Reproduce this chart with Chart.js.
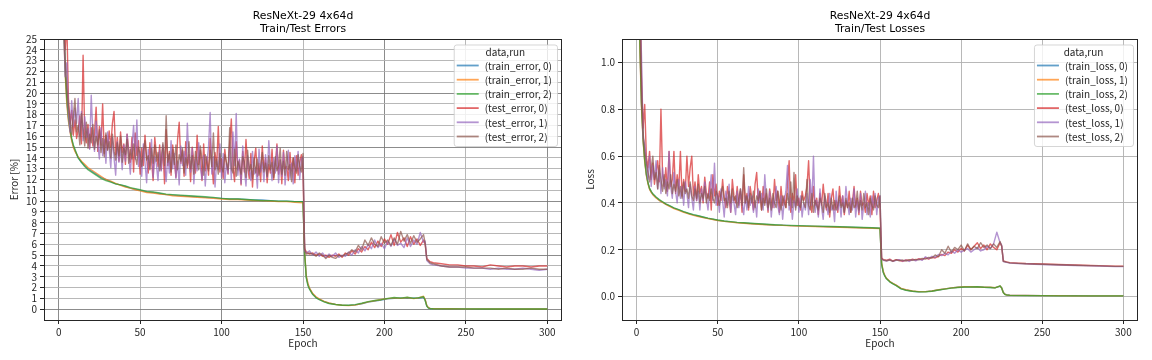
<!DOCTYPE html>
<html><head><meta charset="utf-8">
<script src="https://cdn.jsdelivr.net/npm/chart.js@4.4.1/dist/chart.umd.min.js"></script>
<style>
html,body{margin:0;padding:0;background:#fff;}
#wrap{position:relative;width:1152px;height:360px;overflow:hidden;}
.c{position:absolute;top:0;width:576px;height:360px;}
</style></head><body>
<div id="wrap">
<div class="c" style="left:0"><canvas id="c1" width="576" height="360"></canvas></div>
<div class="c" style="left:576px"><canvas id="c2" width="576" height="360"></canvas></div>
</div>
<script>
// ---------- epochs ----------
const epochsTest = [1,2,3,4,5,6,7,8,9,10,11,12,13,14,15,16,17,18,19,20,21,22,23,24,25,26,27,28,29,30,
31,32,33,34,35,36,37,38,39,40,41,42,43,44,45,46,47,48,49,50,51,52,53,54,55,56,57,58,59,60,
61,62,63,64,65,66,67,68,69,70,71,72,73,74,75,76,77,78,79,80,81,82,83,84,85,86,87,88,89,90,
91,92,93,94,95,96,97,98,99,100,101,102,103,104,105,106,107,108,109,110,111,112,113,114,115,116,117,118,119,120,
121,122,123,124,125,126,127,128,129,130,131,132,133,134,135,136,137,138,139,140,141,142,143,144,145,146,147,148,149,150,
151,152,154,156,158,160,162,164,166,168,170,172,174,176,178,180,182,184,186,188,190,192,194,196,198,200,
202,204,206,208,210,212,214,216,218,220,222,224,225,226,228,230,235,240,245,250,255,260,265,270,275,280,285,290,295,300];
const epochsTrain = [1,2,3,4,5,6,7,8,9,10,12,14,16,18,20,23,26,29,32,35,38,41,44,47,50,54,58,62,66,70,
75,80,85,90,95,100,105,110,115,120,125,130,135,140,145,150,151,152,153,154,156,158,160,
163,166,170,174,178,182,186,190,194,198,202,206,210,214,218,221,224,225,226,227,228,230,240,250,260,270,280,290,300];

// ---------- ticks ----------
const xTicks = [0,50,100,150,200,250,300];
const errTicks = [0,1,2,3,4,5,6,7,8,9,10,11,12,13,14,15,16,17,18,19,20,21,22,23,24,25];
const lossTicks = [0,0.2,0.4,0.6,0.8,1.0];

// ---------- labels ----------
const errLabels = ['(train_error, 0)','(train_error, 1)','(train_error, 2)','(test_error, 0)','(test_error, 1)','(test_error, 2)'];
const lossLabels = ['(train_loss, 0)','(train_loss, 1)','(train_loss, 2)','(test_loss, 0)','(test_loss, 1)','(test_loss, 2)'];

// ---------- train error ----------
const trainError0 = [58,36,27,22,19.3,17.6,16.5,15.7,15.1,14.7,
14.0,13.6,13.3,13.0,12.8,
12.5,12.2,12.0,11.8,11.6,11.5,11.35,11.2,11.1,11.0,
10.85,10.8,10.7,10.6,10.55,
10.5,10.45,10.4,10.35,10.3,10.25,10.2,10.2,10.15,10.1,10.1,10.05,10.0,10.0,9.95,9.95,
5.2,3.0,2.3,1.9,1.4,1.1,0.9,
0.7,0.55,0.45,0.38,0.35,0.4,0.5,0.65,0.75,0.85,0.95,1.0,1.05,1.0,1.05,1.0,1.1,
0.85,0.3,0.12,0.07,0.05,
0.04,0.03,0.03,0.02,0.02,0.02,0.02];
const trainError1 = [57,35,26.5,21.8,19.0,17.4,16.4,15.6,15.0,14.6,
14.1,13.7,13.4,13.1,12.9,
12.6,12.3,12.0,11.85,11.65,11.45,11.3,11.2,11.05,10.95,
10.8,10.75,10.65,10.6,10.5,
10.45,10.4,10.35,10.3,10.25,10.2,10.15,10.15,10.1,10.05,10.05,10.0,9.95,9.95,9.9,9.85,
5.3,3.1,2.4,1.95,1.45,1.15,0.95,
0.72,0.57,0.44,0.36,0.33,0.38,0.52,0.68,0.78,0.9,0.98,1.05,1.0,1.08,0.98,1.05,1.2,
0.9,0.35,0.14,0.08,0.05,
0.04,0.03,0.03,0.02,0.02,0.02,0.02];
const trainError2 = [59,37,27.5,22.3,19.6,17.8,16.7,15.8,15.2,14.8,
14.0,13.6,13.2,12.9,12.7,
12.4,12.1,11.9,11.75,11.6,11.5,11.4,11.25,11.15,11.05,
10.9,10.85,10.75,10.65,10.6,
10.55,10.5,10.45,10.4,10.35,10.25,10.2,10.2,10.15,10.1,10.05,10.05,10.0,10.0,9.95,9.95,
5.1,2.9,2.2,1.85,1.35,1.05,0.88,
0.68,0.53,0.43,0.37,0.36,0.42,0.55,0.7,0.8,0.88,1.0,1.08,1.02,1.1,1.0,1.07,1.15,
0.8,0.28,0.1,0.06,0.04,
0.03,0.03,0.02,0.02,0.02,0.02,0.02];

// ---------- test error ----------
const testError0 = [55,38,29,24,26.5,19.5,17.2,18.4,16.1,17.5,
15.8,16.6,17.9,15.3,23.5,16.2,15.4,17.1,14.9,16.8,
15.1,16.3,18.7,14.6,16.9,15.2,19.0,14.4,16.1,14.8,
16.5,15.0,17.2,18.3,14.3,15.9,13.7,16.4,14.5,15.3,
13.4,16.2,14.8,13.6,15.9,12.7,16.3,14.2,15.6,12.5,
14.9,13.3,16.1,14.0,12.6,15.4,13.8,11.9,15.9,14.4,
13.2,15.2,12.9,14.9,11.6,16.6,13.3,14.6,12.4,15.2,
13.8,12.2,15.7,17.3,13.5,14.7,12.3,15.5,13.1,14.3,
11.8,15.0,13.7,12.6,16.1,13.4,14.7,11.9,15.3,12.8,
14.1,12.4,15.8,13.6,11.6,14.5,13.2,16.9,12.7,13.9,
12.1,14.8,13.4,12.5,15.4,17.6,13.1,11.8,15.5,12.9,
13.8,11.5,14.6,12.7,15.7,13.2,12.1,14.4,11.3,13.7,
14.9,12.3,13.5,11.8,15.1,12.9,14.0,11.7,13.4,12.6,
14.8,12.0,13.3,15.3,12.5,13.8,11.6,14.7,13.0,13.2,
11.9,14.5,12.8,14.0,11.7,14.2,12.4,13.6,14.3,12.5,
5.6,5.3,5.1,5.2,5.0,5.1,4.9,5.0,4.8,5.0,4.9,5.1,4.8,5.2,5.0,5.4,5.1,5.6,5.3,5.8,5.5,6.2,5.7,6.3,5.8,6.5,
6.0,6.9,5.9,7.1,6.2,6.6,5.8,6.7,6.0,6.5,5.9,6.4,6.0,4.7,4.4,4.3,4.2,4.1,4.1,4.0,4.0,3.9,4.1,4.0,3.9,4.0,4.0,3.9,4.0,4.0];
const testError1 = [52,34,27,21.5,22.8,18.2,16.4,19.3,16.9,18.6,
17.2,19.5,16.0,18.3,15.6,17.8,15.9,16.7,14.8,19.8,
16.1,14.6,17.4,15.3,13.9,16.8,14.2,15.7,13.5,16.4,
14.8,13.1,15.9,14.0,12.4,15.5,13.6,14.9,12.9,15.2,
13.7,16.2,14.3,12.5,15.0,17.0,13.9,17.5,13.2,14.6,
12.3,15.3,13.6,11.7,14.8,13.0,15.7,12.2,14.1,13.4,
11.9,14.7,12.8,15.2,13.5,11.8,14.3,12.6,15.6,13.0,
14.4,12.1,13.7,11.5,15.1,13.3,14.6,12.4,17.2,13.8,
12.7,14.9,11.6,13.9,12.8,15.4,13.1,12.0,14.2,11.4,
13.6,15.0,18.2,12.5,14.1,11.3,13.7,12.9,15.3,12.2,
14.4,11.7,13.5,12.6,14.8,12.0,16.4,13.3,18.1,12.4,
13.9,11.6,15.1,12.9,11.4,14.2,13.0,11.9,14.6,12.5,
13.1,11.2,14.8,12.7,13.6,11.8,14.3,12.2,15.6,13.4,
11.9,14.0,12.6,15.1,11.7,13.8,12.3,14.5,11.5,13.2,
14.7,12.1,13.5,11.6,14.2,12.8,14.6,12.0,13.9,14.1,
5.4,5.2,5.4,5.0,5.3,4.9,5.2,4.8,5.1,4.9,5.2,4.8,5.0,4.9,5.3,5.0,5.5,5.2,5.8,5.4,6.0,5.6,6.4,5.7,6.1,5.6,
6.3,5.8,6.5,5.9,6.1,5.7,6.6,5.8,6.4,6.0,7.1,6.2,6.3,4.5,4.2,4.1,4.0,3.9,3.9,3.8,3.8,3.8,3.7,3.8,3.7,3.7,3.8,3.7,3.6,3.7];
const testError2 = [50,36,28,23,20.5,18.8,17.5,16.2,17.9,19.5,
16.4,17.0,15.2,18.1,16.7,15.1,17.3,14.9,16.2,15.4,
17.1,14.8,16.0,15.2,16.6,14.5,15.8,14.1,16.3,14.7,
15.5,14.0,16.2,14.6,13.8,15.4,14.2,16.0,13.6,14.9,
14.3,15.7,13.5,14.8,13.9,15.3,14.1,13.4,15.0,14.4,
13.2,14.7,15.6,13.8,14.2,12.9,14.9,13.5,15.2,13.7,
14.5,12.8,14.1,15.4,13.3,17.9,13.6,14.4,12.7,14.8,
13.4,15.2,12.9,14.3,13.7,14.9,12.6,14.0,13.3,15.5,
13.0,14.2,12.5,14.6,13.6,12.9,15.1,13.8,12.4,14.3,
13.5,12.8,14.7,13.2,16.3,12.9,13.9,12.5,14.4,13.1,
12.7,14.3,13.6,12.9,16.8,13.0,12.6,14.8,12.3,13.7,
13.2,12.5,14.1,13.6,12.2,14.7,12.8,13.4,12.1,14.0,
12.6,13.9,12.4,13.2,14.5,12.7,13.5,12.3,14.2,12.9,
13.6,12.2,14.1,12.8,13.3,14.9,12.5,13.7,12.4,14.6,
12.9,13.4,11.8,14.0,13.1,12.6,14.3,13.2,12.7,14.4,
5.5,5.1,5.2,5.1,4.9,5.2,5.0,4.7,5.0,4.8,4.7,5.0,4.9,5.1,5.2,5.5,5.3,5.9,5.5,6.4,5.9,6.6,6.0,5.8,6.7,6.1,
6.4,5.9,6.6,6.0,7.2,6.3,6.9,6.1,6.8,6.2,6.5,6.9,6.1,4.6,4.3,4.2,4.0,3.9,3.9,3.9,3.8,3.8,3.8,3.7,3.8,3.7,3.7,3.8,3.7,3.7];

// ---------- train loss ----------
const trainLoss0 = [1.75,1.08,0.82,0.67,0.58,0.52,0.485,0.46,0.447,0.437,
0.423,0.412,0.403,0.395,0.388,
0.378,0.37,0.362,0.355,0.349,0.344,0.339,0.334,0.33,0.326,
0.322,0.319,0.316,0.314,0.312,
0.31,0.308,0.306,0.305,0.303,0.302,0.301,0.3,0.299,0.298,0.297,0.296,0.295,0.294,0.293,0.292,
0.14,0.105,0.088,0.077,0.064,0.055,0.048,
0.034,0.028,0.023,0.02,0.021,0.024,0.028,0.033,0.037,0.04,0.041,0.041,0.041,0.04,0.039,0.038,0.044,
0.038,0.018,0.01,0.008,0.006,
0.005,0.004,0.004,0.004,0.003,0.003,0.003];
const trainLoss1 = [1.72,1.06,0.81,0.665,0.575,0.518,0.482,0.458,0.445,0.435,
0.421,0.41,0.402,0.394,0.386,
0.376,0.368,0.36,0.353,0.347,0.342,0.337,0.333,0.329,0.325,
0.321,0.318,0.315,0.313,0.311,
0.309,0.307,0.305,0.304,0.302,0.301,0.3,0.299,0.298,0.297,0.296,0.295,0.294,0.293,0.292,0.291,
0.145,0.108,0.09,0.078,0.065,0.056,0.049,
0.035,0.029,0.024,0.021,0.021,0.024,0.029,0.033,0.037,0.04,0.042,0.042,0.041,0.04,0.04,0.038,0.045,
0.037,0.017,0.01,0.007,0.006,
0.005,0.004,0.004,0.003,0.003,0.003,0.003];
const trainLoss2 = [1.78,1.1,0.83,0.675,0.585,0.525,0.488,0.462,0.449,0.439,
0.425,0.414,0.405,0.396,0.389,
0.379,0.371,0.363,0.356,0.35,0.345,0.34,0.335,0.331,0.327,
0.323,0.32,0.317,0.315,0.313,
0.311,0.309,0.307,0.305,0.304,0.303,0.302,0.301,0.3,0.299,0.298,0.297,0.296,0.295,0.294,0.292,
0.138,0.103,0.087,0.076,0.063,0.054,0.047,
0.033,0.027,0.023,0.02,0.02,0.023,0.028,0.032,0.036,0.039,0.041,0.041,0.042,0.04,0.039,0.037,0.046,
0.036,0.016,0.009,0.007,0.005,
0.004,0.004,0.003,0.003,0.003,0.003,0.003];

// ---------- test loss ----------
const testLoss0 = [2.1,1.35,0.95,0.72,0.82,0.6,0.55,0.62,0.5,0.57,
0.48,0.53,0.58,0.49,0.8,0.52,0.47,0.55,0.45,0.62,
0.47,0.5,0.62,0.44,0.52,0.46,0.62,0.43,0.5,0.45,
0.6,0.47,0.55,0.6,0.43,0.49,0.41,0.52,0.44,0.47,
0.4,0.51,0.44,0.42,0.49,0.37,0.52,0.43,0.48,0.39,
0.45,0.41,0.5,0.42,0.38,0.47,0.42,0.36,0.5,0.43,
0.4,0.47,0.39,0.45,0.36,0.52,0.4,0.44,0.37,0.47,
0.42,0.37,0.48,0.53,0.4,0.45,0.37,0.47,0.4,0.44,
0.36,0.46,0.41,0.38,0.5,0.41,0.45,0.36,0.47,0.39,
0.43,0.38,0.48,0.58,0.36,0.44,0.4,0.52,0.39,0.42,
0.37,0.45,0.41,0.43,0.47,0.58,0.4,0.36,0.47,0.39,
0.42,0.35,0.44,0.39,0.48,0.4,0.37,0.44,0.34,0.42,
0.46,0.37,0.41,0.36,0.47,0.39,0.43,0.35,0.41,0.38,
0.45,0.36,0.4,0.47,0.38,0.42,0.35,0.45,0.39,0.4,
0.36,0.44,0.39,0.43,0.35,0.45,0.38,0.41,0.44,0.38,
0.165,0.158,0.155,0.16,0.152,0.158,0.155,0.15,0.157,0.154,0.16,0.156,0.162,0.158,0.165,0.16,0.168,0.165,0.172,0.18,
0.175,0.19,0.185,0.2,0.19,0.205,0.195,0.22,0.2,0.215,0.23,0.205,0.22,0.2,0.225,0.21,0.2,0.23,0.215,0.152,
0.148,0.145,0.143,0.141,0.14,0.139,0.138,0.137,0.136,0.135,0.134,0.133,0.132,0.131,0.13,0.13];
const testLoss1 = [1.9,1.25,1.03,0.68,0.65,0.58,0.5,0.6,0.47,0.56,
0.5,0.58,0.46,0.54,0.44,0.55,0.46,0.5,0.43,0.62,
0.47,0.42,0.53,0.45,0.4,0.5,0.42,0.47,0.39,0.49,
0.44,0.38,0.48,0.42,0.37,0.47,0.41,0.45,0.37,0.46,
0.41,0.49,0.42,0.37,0.45,0.52,0.41,0.57,0.39,0.44,
0.36,0.46,0.41,0.34,0.45,0.39,0.48,0.36,0.43,0.4,
0.35,0.45,0.38,0.46,0.4,0.35,0.43,0.37,0.47,0.39,
0.43,0.36,0.41,0.34,0.46,0.4,0.44,0.37,0.52,0.41,
0.37,0.45,0.34,0.42,0.38,0.47,0.39,0.35,0.43,0.33,
0.41,0.45,0.56,0.37,0.42,0.33,0.41,0.38,0.46,0.36,
0.43,0.34,0.4,0.37,0.44,0.35,0.5,0.39,0.6,0.36,
0.41,0.34,0.46,0.38,0.33,0.43,0.39,0.35,0.44,0.37,
0.39,0.32,0.45,0.37,0.41,0.34,0.43,0.36,0.47,0.4,
0.35,0.42,0.37,0.46,0.34,0.41,0.36,0.44,0.33,0.39,
0.45,0.35,0.4,0.34,0.43,0.38,0.44,0.35,0.42,0.43,
0.16,0.155,0.152,0.157,0.15,0.155,0.158,0.152,0.156,0.15,0.158,0.153,0.16,0.155,0.17,0.162,0.172,0.168,0.18,0.175,
0.185,0.178,0.195,0.185,0.2,0.19,0.198,0.205,0.19,0.2,0.21,0.195,0.2,0.215,0.205,0.225,0.275,0.23,0.22,0.15,
0.146,0.143,0.141,0.14,0.138,0.137,0.136,0.135,0.134,0.133,0.132,0.131,0.13,0.129,0.128,0.128];
const testLoss2 = [2.0,1.3,0.9,0.7,0.62,0.57,0.53,0.49,0.55,0.6,
0.5,0.53,0.46,0.56,0.5,0.45,0.52,0.44,0.49,0.46,
0.52,0.44,0.48,0.45,0.5,0.43,0.47,0.42,0.49,0.44,
0.46,0.42,0.49,0.43,0.41,0.46,0.42,0.48,0.4,0.44,
0.42,0.47,0.4,0.44,0.41,0.46,0.42,0.4,0.45,0.43,
0.39,0.44,0.47,0.41,0.42,0.38,0.45,0.4,0.46,0.41,
0.43,0.38,0.42,0.46,0.39,0.55,0.4,0.43,0.38,0.44,
0.4,0.45,0.38,0.43,0.41,0.45,0.37,0.42,0.39,0.46,
0.38,0.42,0.37,0.44,0.4,0.38,0.45,0.41,0.37,0.43,
0.4,0.38,0.44,0.39,0.49,0.38,0.53,0.37,0.43,0.39,
0.38,0.43,0.4,0.38,0.5,0.39,0.37,0.44,0.36,0.41,
0.39,0.37,0.42,0.4,0.36,0.44,0.38,0.4,0.36,0.42,
0.37,0.41,0.37,0.39,0.43,0.38,0.4,0.36,0.42,0.38,
0.4,0.36,0.42,0.38,0.39,0.45,0.37,0.41,0.37,0.44,
0.38,0.4,0.35,0.42,0.39,0.37,0.43,0.39,0.38,0.43,
0.162,0.157,0.153,0.156,0.151,0.157,0.153,0.156,0.152,0.158,0.155,0.159,0.157,0.163,0.16,0.167,0.165,0.178,0.17,0.2,
0.185,0.215,0.19,0.21,0.2,0.22,0.195,0.225,0.2,0.215,0.205,0.23,0.21,0.22,0.205,0.225,0.21,0.235,0.215,0.151,
0.147,0.144,0.142,0.14,0.139,0.138,0.137,0.136,0.135,0.134,0.133,0.132,0.131,0.13,0.129,0.129];

// ---------- styling ----------
const FONT = "'Noto Sans CJK JP','Noto Sans',sans-serif";
const TITLE_FONT = "'DejaVu Sans','Noto Sans',sans-serif";
const TXT = '#262626';
const seriesColors = ['rgba(31,119,180,0.7)','rgba(255,127,14,0.7)','rgba(44,160,44,0.7)',
                      'rgba(214,39,40,0.7)','rgba(148,103,189,0.7)','rgba(140,86,75,0.7)'];

function zip(xs, ys) {
  const n = Math.min(xs.length, ys.length);
  const out = [];
  for (let i = 0; i < n; i++) out.push({x: xs[i], y: ys[i]});
  return out;
}

const decor = {
  id: 'decor',
  afterDatasetsDraw(chart, args, o) {
    const ctx = chart.ctx, a = chart.chartArea;
    ctx.save();
    // spines
    ctx.strokeStyle = TXT; ctx.lineWidth = 1;
    ctx.strokeRect(Math.round(a.left) + 0.5, Math.round(a.top) + 0.5,
                   Math.round(a.right - a.left) - 1, Math.round(a.bottom - a.top));
    // legend
    const ds = chart.data.datasets;
    ctx.font = '10px ' + FONT;
    let tw = 0;
    ds.forEach(d => { tw = Math.max(tw, ctx.measureText(d.label).width); });
    const w = 31 + tw + 5;
    const rowH = 14.2;
    const h = 21 + (ds.length - 1) * rowH + 9.5;
    const x = a.right - 5 - w, y = a.top + 5.5;
    ctx.beginPath();
    if (ctx.roundRect) ctx.roundRect(x + 0.5, y + 0.5, w, h, 2.5); else ctx.rect(x + 0.5, y + 0.5, w, h);
    ctx.fillStyle = 'rgba(255,255,255,0.8)';
    ctx.fill();
    ctx.strokeStyle = 'rgba(204,204,204,0.8)';
    ctx.lineWidth = 1;
    ctx.stroke();
    ctx.fillStyle = TXT;
    ctx.textBaseline = 'middle';
    ctx.textAlign = 'center';
    ctx.fillText(o.legendTitle, x + w / 2, y + 8);
    ctx.textAlign = 'left';
    ds.forEach((d, i) => {
      const ry = y + 21 + i * rowH;
      ctx.strokeStyle = d.borderColor;
      ctx.lineWidth = 1.8;
      ctx.beginPath(); ctx.moveTo(x + 3, ry); ctx.lineTo(x + 25, ry); ctx.stroke();
      ctx.fillStyle = TXT;
      ctx.fillText(d.label, x + 31, ry + 0.5);
    });
    // title
    ctx.font = '10.8px ' + TITLE_FONT;
    ctx.textAlign = 'center';
    ctx.fillStyle = '#000';
    const cx = (a.left + a.right) / 2;
    o.title.forEach((t, i) => ctx.fillText(t, cx, 16 + i * 13));
    ctx.restore();
  }
};

function makeChart(id, cfg) {
  const datasets = cfg.series.map((s, i) => ({
    label: s.label,
    data: zip(s.x, s.y),
    borderColor: seriesColors[i],
    backgroundColor: seriesColors[i],
    borderWidth: 1.4,
    borderJoinStyle: 'round',
    pointRadius: 0,
    fill: false,
    tension: 0,
    clip: 0,
    order: 10 - i
  }));
  return new Chart(document.getElementById(id), {
    type: 'line',
    data: {datasets},
    plugins: [decor],
    options: {
      responsive: false,
      animation: false,
      events: [],
      layout: {padding: {left: 0, right: cfg.padRight, top: 39, bottom: 0}},
      plugins: {
        legend: {display: false},
        tooltip: {enabled: false},
        title: {display: false},
        decor: {title: cfg.title, legendTitle: 'data,run'}
      },
      scales: {
        x: {
          type: 'linear', min: -9, max: 309,
          afterBuildTicks: s => { s.ticks = xTicks.map(v => ({value: v})); },
          afterFit: s => { s.height = 40; },
          ticks: {autoSkip: false, maxRotation: 0, padding: 2, color: TXT,
                  font: {family: FONT, size: 10}, callback: v => String(v)},
          grid: {color: c => cfg.xGrid(c.tick ? c.tick.value : 0), lineWidth: 1,
                 drawTicks: true, tickLength: 4, tickColor: TXT},
          border: {display: false},
          title: {display: true, text: 'Epoch', color: TXT, font: {family: FONT, size: 10},
                  padding: {top: 0, bottom: 11}}
        },
        y: {
          type: 'linear', min: cfg.yMin, max: cfg.yMax,
          afterBuildTicks: s => { s.ticks = cfg.yTicks.map(v => ({value: v})); },
          afterFit: s => { s.width = cfg.yWidth; },
          ticks: {autoSkip: false, padding: 3, color: TXT,
                  font: {family: FONT, size: 10}, callback: cfg.yFmt},
          grid: {color: c => cfg.yGrid(c.tick ? c.tick.value : 0), lineWidth: 1,
                 drawTicks: true, tickLength: 4, tickColor: TXT},
          border: {display: false},
          title: {display: true, text: cfg.yTitle, color: TXT, font: {family: FONT, size: 10},
                  padding: {top: 8, bottom: 0}}
        }
      }
    }
  });
}

const MAJOR = 'rgba(120,120,120,0.85)';
const MINOR = 'rgba(176,176,176,0.9)';

makeChart('c1', {
  title: ['ResNeXt-29 4x64d', 'Train/Test Errors'],
  yTitle: 'Error [%]',
  yMin: -1, yMax: 25, yTicks: errTicks, yWidth: 44, padRight: 14,
  yFmt: v => String(v),
  xGrid: v => (v % 100 === 0 ? MAJOR : MINOR),
  yGrid: v => (v % 5 === 0 ? MAJOR : MINOR),
  series: [
    {label: errLabels[0], x: epochsTrain, y: trainError0},
    {label: errLabels[1], x: epochsTrain, y: trainError1},
    {label: errLabels[2], x: epochsTrain, y: trainError2},
    {label: errLabels[3], x: epochsTest, y: testError0},
    {label: errLabels[4], x: epochsTest, y: testError1},
    {label: errLabels[5], x: epochsTest, y: testError2}
  ]
});

makeChart('c2', {
  title: ['ResNeXt-29 4x64d', 'Train/Test Losses'],
  yTitle: 'Loss',
  yMin: -0.1, yMax: 1.1, yTicks: lossTicks, yWidth: 46, padRight: 14,
  yFmt: v => Number(v).toFixed(1),
  xGrid: v => MINOR,
  yGrid: v => MINOR,
  series: [
    {label: lossLabels[0], x: epochsTrain, y: trainLoss0},
    {label: lossLabels[1], x: epochsTrain, y: trainLoss1},
    {label: lossLabels[2], x: epochsTrain, y: trainLoss2},
    {label: lossLabels[3], x: epochsTest, y: testLoss0},
    {label: lossLabels[4], x: epochsTest, y: testLoss1},
    {label: lossLabels[5], x: epochsTest, y: testLoss2}
  ]
});
</script>
</body></html>
